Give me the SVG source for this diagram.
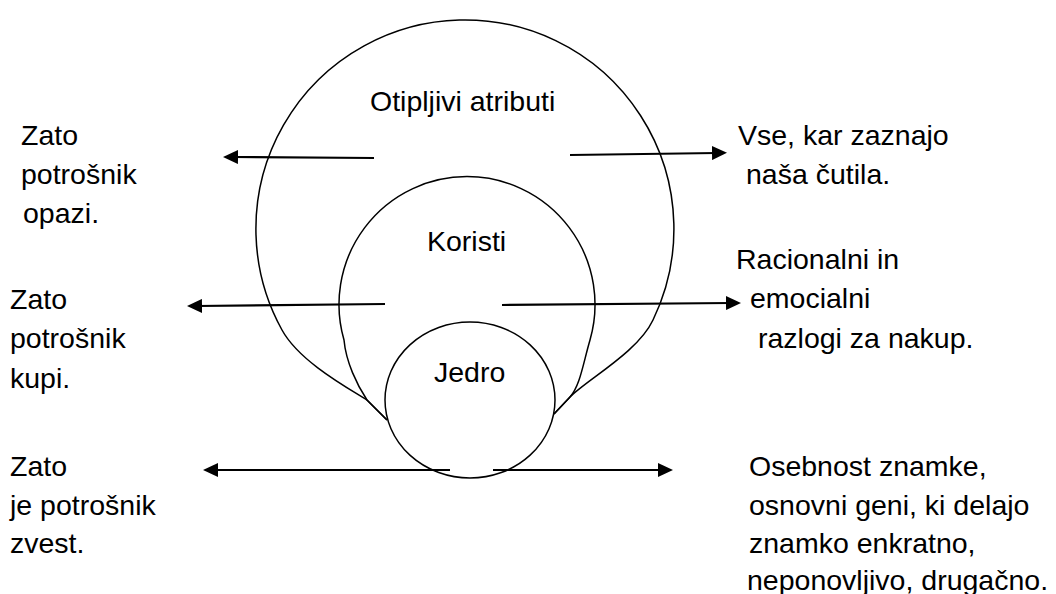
<svg xmlns="http://www.w3.org/2000/svg" width="1056" height="594" viewBox="0 0 1056 594">
  <style>
    text { font-family: "Liberation Sans", Arial, sans-serif; font-size: 28.5px; fill: #000; }
    .shape { fill: none; stroke: #000; stroke-width: 1.5; }
    .core { fill: #fff; stroke: #000; stroke-width: 1.5; }
    .conn { stroke: #000; stroke-width: 2.2; fill: none; marker-end: url(#head); }
  </style>
  <defs>
    <marker id="head" viewBox="0 0 15 14" refX="5" refY="7" markerWidth="15" markerHeight="14" markerUnits="userSpaceOnUse" orient="auto">
      <path d="M0,0 L15,7 L0,14 z" fill="#000"/>
    </marker>
  </defs>

  <rect width="1056" height="594" fill="#fff"/>

  <!-- outer layer: tangible attributes -->
  <g id="node-otipljivi">
    <path class="shape" d="M387,420 L367,400 C346,387 299,361 282,330 A209 209 0 1 1 653,320 C638,352 588,379 570,397 L554,414"/>
    <text x="370" y="111">Otipljivi atributi</text>
  </g>

  <!-- middle layer: benefits -->
  <g id="node-koristi">
    <path class="shape" d="M387,420 L367,400 C357,385 346,362 344,340 A128 128 0 1 1 590,340 C583,364 580,386 570,397 L554,414"/>
    <text x="427" y="251">Koristi</text>
  </g>

  <!-- inner layer: core -->
  <g id="node-jedro">
    <ellipse class="core" cx="470" cy="400" rx="85" ry="78"/>
    <text x="434" y="382">Jedro</text>
  </g>

  <!-- connectors -->
  <g id="connectors">
    <line class="conn" x1="374" y1="158" x2="233" y2="157"/>
    <line class="conn" x1="570" y1="155" x2="717" y2="153"/>
    <line class="conn" x1="385" y1="304" x2="197" y2="306"/>
    <line class="conn" x1="502" y1="305" x2="731" y2="303"/>
    <line class="conn" x1="450" y1="470" x2="213" y2="470"/>
    <line class="conn" x1="493" y1="470" x2="663" y2="470"/>
  </g>

  <!-- side labels -->
  <g id="label-opazi">
    <text x="21" y="145">Zato</text>
    <text x="21" y="184">potrošnik</text>
    <text x="23" y="223">opazi.</text>
  </g>
  <g id="label-cutila">
    <text x="738" y="145">Vse, kar zaznajo</text>
    <text x="746" y="184">naša čutila.</text>
  </g>
  <g id="label-kupi">
    <text x="10" y="309">Zato</text>
    <text x="10" y="348">potrošnik</text>
    <text x="10" y="388">kupi.</text>
  </g>
  <g id="label-razlogi">
    <text x="736" y="269">Racionalni in</text>
    <text x="750" y="308">emocialni</text>
    <text x="758" y="348">razlogi za nakup.</text>
  </g>
  <g id="label-zvest">
    <text x="10" y="476">Zato</text>
    <text x="10" y="515">je potrošnik</text>
    <text x="10" y="553">zvest.</text>
  </g>
  <g id="label-osebnost">
    <text x="749" y="476">Osebnost znamke,</text>
    <text x="749" y="515">osnovni geni, ki delajo</text>
    <text x="749" y="553">znamko enkratno,</text>
    <text x="747" y="590">neponovljivo, drugačno.</text>
  </g>
</svg>
